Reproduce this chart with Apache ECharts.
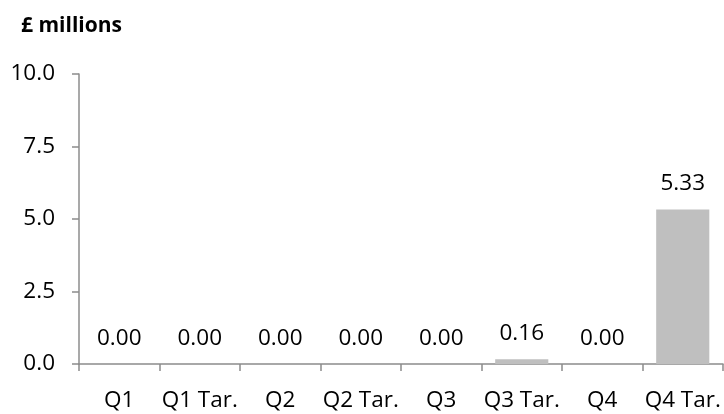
<!DOCTYPE html>
<html>
<head>
<meta charset="utf-8">
<script src="https://cdn.jsdelivr.net/npm/echarts@6/dist/echarts.min.js"></script>
<style>
html,body{margin:0;padding:0;background:#fff;}
#chart{width:724px;height:414px;}
</style>
</head>
<body>
<div id="chart"></div>
<script>
var categories = ["Q1", "Q1 Tar.", "Q2", "Q2 Tar.", "Q3", "Q3 Tar.", "Q4", "Q4 Tar."];
var values = [0.00, 0.00, 0.00, 0.00, 0.00, 0.16, 0.00, 5.33];
var yTicks = [0, 2.5, 5, 7.5, 10];
var titleText = "£ millions";

var chart = echarts.init(document.getElementById('chart'), null, {renderer: 'canvas'});
var font = "'Open Sans', sans-serif";
chart.setOption({
  animation: false,
  title: {
    text: titleText,
    left: 16,
    top: 11,
    textStyle: {fontFamily: font, fontSize: 21, fontWeight: 'bold', color: '#000'}
  },
  grid: {left: 79, right: 1, top: 74, bottom: 50, containLabel: false},
  xAxis: {
    type: 'category',
    data: categories,
    axisLine: {lineStyle: {color: '#8c8c8c', width: 1.5}},
    axisTick: {show: true, length: 7, lineStyle: {color: '#8c8c8c', width: 1.5}},
    axisLabel: {fontFamily: font, fontSize: 22.5, color: '#000', margin: 25, interval: 0}
  },
  yAxis: {
    type: 'value',
    min: yTicks[0],
    max: yTicks[yTicks.length - 1],
    interval: yTicks[1] - yTicks[0],
    axisLine: {show: true, lineStyle: {color: '#8c8c8c', width: 1.5}},
    axisTick: {show: true, length: 7, lineStyle: {color: '#8c8c8c', width: 1.5}},
    splitLine: {show: false},
    axisLabel: {fontFamily: font, fontSize: 22.5, color: '#000', margin: 24,
      formatter: function (v) { return v.toFixed(1); }}
  },
  series: [{
    type: 'bar',
    data: values,
    barWidth: '66%',
    itemStyle: {color: '#bfbfbf'},
    label: {
      show: true,
      position: 'top',
      distance: 14,
      fontFamily: font,
      fontSize: 22.5,
      color: '#000',
      formatter: function (p) { return p.value.toFixed(2); }
    }
  }]
});
</script>
</body>
</html>
